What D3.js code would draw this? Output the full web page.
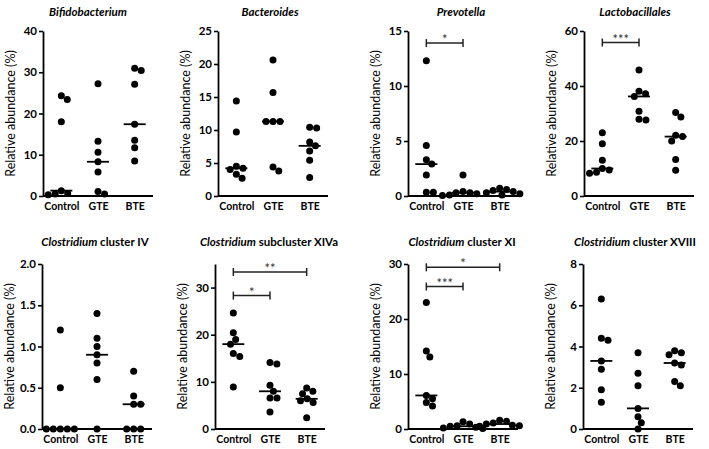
<!DOCTYPE html>
<html>
<head>
<meta charset="utf-8">
<script src="https://cdn.jsdelivr.net/npm/d3@7"></script>
<style>
  body { margin: 0; background: #fff; }
  text { font-family: Lato, "Open Sans", sans-serif; }
</style>
</head>
<body>
<svg id="chart" width="709" height="449"></svg>
<script>
const groups = ["Control", "GTE", "BTE"];

// values per group: Control, GTE, BTE
const bifidobacterium = [[24.3, 23.4, 18.0, 1.3, 0.6, 0.5, 0.3], [27.2, 13.3, 10.6, 8.3, 5.8, 1.1, 0.5], [31.0, 30.4, 27.1, 17.4, 13.5, 11.7, 8.5]];
const bacteroides = [[14.4, 9.7, 4.5, 4.2, 4.0, 3.3, 2.7], [20.6, 15.7, 11.3, 11.3, 11.3, 4.4, 3.8], [10.4, 10.3, 8.2, 7.6, 6.8, 5.4, 2.8]];
const prevotella = [[12.3, 4.6, 3.3, 2.9, 1.9, 0.35, 0.35], [1.9, 0.4, 0.3, 0.3, 0.2, 0.1, 0.05], [0.7, 0.6, 0.5, 0.4, 0.3, 0.2, 0.1]];
const lactobacillales = [[23, 19, 13, 10, 9.5, 8.6, 8.3], [45.8, 38.1, 37.2, 36.2, 30.8, 27.9, 27.6], [30.4, 28.7, 22.1, 21.6, 20, 13.3, 9.4]];
const clusterIV = [[1.2, 0.5, 0, 0, 0, 0, 0], [1.4, 1.1, 1.0, 0.9, 0.8, 0.6, 0], [0.7, 0.4, 0.3, 0.3, 0, 0, 0]];
const clusterXIVa = [[24.6, 20.4, 19.0, 18.0, 16.0, 15.4, 8.9], [14.1, 13.8, 9.3, 8.0, 6.6, 6.6, 3.6], [8.7, 8.0, 7.5, 6.4, 6.0, 5.6, 2.4]];
const clusterXI = [[23.0, 14.2, 13.1, 6.1, 5.5, 4.8, 4.2], [1.3, 0.9, 0.6, 0.5, 0.3, 0.2, 0.1], [1.6, 1.4, 1.1, 0.9, 0.7, 0.6, 0.5]];
const clusterXVIII = [[6.3, 4.4, 4.3, 3.3, 2.9, 1.9, 1.3], [3.7, 2.7, 2.1, 1.0, 0.6, 0.3, 0], [3.8, 3.7, 3.6, 3.2, 3.1, 2.3, 2.1]];

const panelValues = [bifidobacterium, bacteroides, prevotella, lactobacillales, clusterIV, clusterXIVa, clusterXI, clusterXVIII];
const panelTitles = [
  ["Bifidobacterium", ""], ["Bacteroides", ""], ["Prevotella", ""], ["Lactobacillales", ""],
  ["Clostridium", " cluster IV"], ["Clostridium", " subcluster XIVa"], ["Clostridium", " cluster XI"], ["Clostridium", " cluster XVIII"]
];
const yMax = [40, 25, 15, 60, 2, 35, 30, 8];
const yTicks = [
  [0, 10, 20, 30, 40], [0, 5, 10, 15, 20, 25], [0, 5, 10, 15], [0, 20, 40, 60],
  [0, 0.5, 1, 1.5, 2], [0, 10, 20, 30], [0, 10, 20, 30], [0, 2, 4, 6, 8]
];
const tickFormats = ["d", "d", "d", "d", ".1f", "d", "d", "d"];
// significance brackets: from, to, height (data units), label
const brackets = [
  [], [], [["Control", "GTE", 13.9, "*"]], [["Control", "GTE", 55.8, "***"]],
  [], [["Control", "BTE", 33.3, "**"], ["Control", "GTE", 28.3, "*"]],
  [["Control", "BTE", 29.4, "*"], ["Control", "GTE", 25.9, "***"]], []
];
const yLabel = "Relative abundance (%)";

// layout
const axisX = [43, 218, 408, 584, 42, 215, 408, 583];
const titleOffset = [45, 52, 53, 51, 53, 54, 54, 52];
const rows = [{ bottom: 196, top: 31, titleY: 16 }, { bottom: 429, top: 264, titleY: 246 }];
const plotW = 110;
const r = 3.5;

const svg = d3.select("#chart");

// simple beeswarm: nearest free x offset to the centre
function swarm(vals, y) {
  const pts = vals.map(v => ({ v, y: y(v), x: 0 }));
  const placed = [];
  pts.forEach(p => {
    const cands = [0];
    placed.forEach(q => {
      const dy = p.y - q.y;
      if (Math.abs(dy) < 2 * r) {
        const dx = Math.sqrt(4 * r * r - dy * dy);
        cands.push(q.x + dx, q.x - dx);
      }
    });
    const ok = cands.filter(c => placed.every(q => (c - q.x) ** 2 + (p.y - q.y) ** 2 >= 4 * r * r - 0.01));
    ok.sort((a, b) => Math.abs(a) - Math.abs(b) || b - a);
    p.x = ok[0];
    placed.push(p);
  });
  return pts;
}

panelValues.forEach((vals, i) => {
  const row = rows[Math.floor(i / 4)];
  const ax = axisX[i];
  const g = svg.append("g");

  const x = d3.scalePoint().domain(groups).range([ax, ax + plotW]).padding(0.5);
  const y = d3.scaleLinear().domain([0, yMax[i]]).range([row.bottom, row.top]);

  // y axis
  const yAxis = g.append("g")
    .attr("transform", `translate(${ax},0)`)
    .call(d3.axisLeft(y).tickValues(yTicks[i]).tickFormat(d3.format(tickFormats[i])).tickSize(4).tickSizeOuter(0));
  yAxis.select(".domain").attr("stroke", "#000").attr("stroke-width", 1.8);
  yAxis.selectAll(".tick line").attr("stroke", "#000").attr("stroke-width", 1.6);
  yAxis.selectAll(".tick text").attr("font-size", 11.5).attr("font-weight", "bold").attr("fill", "#000").attr("x", -6);

  // x axis
  const xAxis = g.append("g")
    .attr("transform", `translate(0,${row.bottom})`)
    .call(d3.axisBottom(x).tickSize(0).tickSizeOuter(0));
  xAxis.select(".domain").attr("stroke", "#000").attr("stroke-width", 1.8)
    .attr("d", `M${ax},0H${ax + plotW}`);
  xAxis.selectAll(".tick text").attr("font-size", 10.5).attr("font-weight", "bold").attr("fill", "#000").attr("dy", "1.05em");

  // y label
  g.append("text")
    .attr("transform", `translate(${ax - 31},${(row.top + row.bottom) / 2}) rotate(-90)`)
    .attr("text-anchor", "middle")
    .attr("dominant-baseline", "middle")
    .attr("font-size", 12.5)
    .attr("fill", "#000")
    .text(yLabel);

  // title
  const t = g.append("text")
    .attr("x", ax + titleOffset[i])
    .attr("y", row.titleY)
    .attr("text-anchor", "middle")
    .attr("font-size", 11.5)
    .attr("font-weight", "bold")
    .attr("fill", "#000");
  t.append("tspan").attr("font-style", "italic").text(panelTitles[i][0]);
  if (panelTitles[i][1]) t.append("tspan").text(panelTitles[i][1]);

  // dots and medians
  vals.forEach((gv, k) => {
    const cx = x(groups[k]);
    const pts = swarm(gv, y);
    g.append("g").selectAll("circle")
      .data(pts)
      .join("circle")
      .attr("cx", d => cx + d.x)
      .attr("cy", d => d.y)
      .attr("r", r)
      .attr("fill", "#000");
    const m = d3.median(gv);
    g.append("line")
      .attr("x1", cx - 11).attr("x2", cx + 11)
      .attr("y1", y(m)).attr("y2", y(m))
      .attr("stroke", "#000").attr("stroke-width", 1.8);
  });

  // brackets
  brackets[i].forEach(([a, b, h, lab]) => {
    const yy = y(h);
    const x1 = x(a), x2 = x(b);
    const bg = g.append("g").attr("stroke", "#222").attr("stroke-width", 1.5);
    bg.append("line").attr("x1", x1).attr("x2", x2).attr("y1", yy).attr("y2", yy);
    bg.append("line").attr("x1", x1).attr("x2", x1).attr("y1", yy - 4).attr("y2", yy + 4);
    bg.append("line").attr("x1", x2).attr("x2", x2).attr("y1", yy - 4).attr("y2", yy + 4);
    g.append("text")
      .attr("x", (x1 + x2) / 2)
      .attr("y", yy + 1)
      .attr("text-anchor", "middle")
      .attr("font-size", 13)
      .attr("fill", "#333")
      .text(lab);
  });
});
</script>
</body>
</html>
